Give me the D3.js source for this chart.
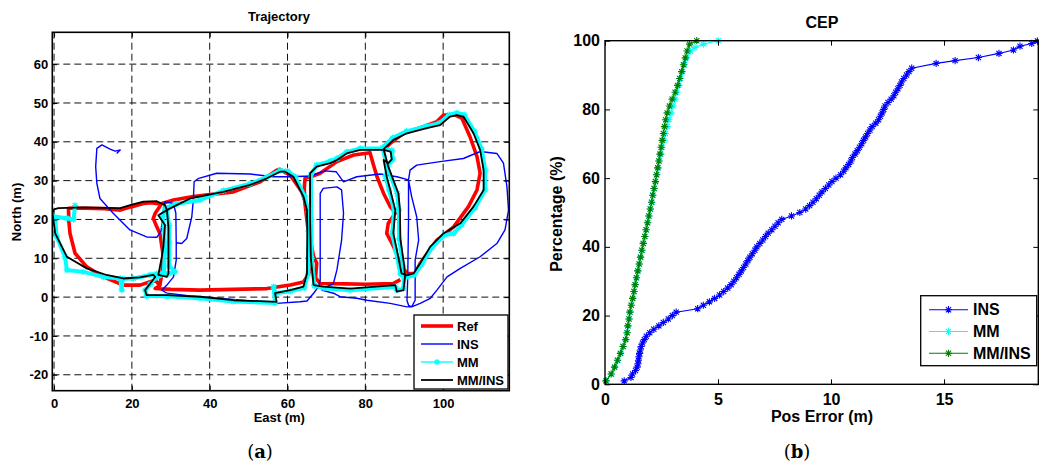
<!DOCTYPE html>
<html>
<head>
<meta charset="utf-8">
<script src="https://cdn.jsdelivr.net/npm/d3@7"></script>
<style>
  body { margin: 0; background: #fff; }
  text { font-family: "Liberation Sans", Arial, sans-serif; font-weight: bold; fill: #000; }
</style>
</head>
<body>
<svg id="chart" width="1039" height="466"></svg>
<script>
// ---------- (a) Trajectory : [east, north] in metres ----------
var xTicksA = [0, 20, 40, 60, 80, 100],
  yTicksA = [-20, -10, 0, 10, 20, 30, 40, 50, 60];

var refA = [[27.2,24.0],[25,24.3],[23,24.1],[20,23.3],[17,22.4],[13,22.8],[8,22.9],[3.7,22.9],[3.8,19.5],[4.1,16.4],[5.4,11.3],[8.4,7.8],[12.7,5.2],[17.8,3.1],[22.1,3.1],[26,4.4],[27.2,3.0],[26,2.2],[30,2.0],[37.5,1.8],[46,2.0],[54.7,2.2],[60.7,3.1],[64.1,3.9],[65.8,6.5],[66.2,11.3],[65.8,18],[64.9,23.3],[63.7,27.1],[60.7,31.4],[58.0,32.9],[57.2,32.7],[53,29.7],[46.1,27.1],[40,26.4],[35.8,25.9],[30.7,25.0],[27.7,24.1],[26.0,21.6],[25.5,20.3],[26.4,18.1],[27.2,16.4],[28.1,10.4],[27.7,6.0],[27.2,3.0]];

var refB = [[89.0,4.5],[87.2,3.5],[80,3.3],[75,3.4],[68.4,3.5],[67.2,5.0],[67.5,8.7],[66.7,10.5],[65.2,18],[64.5,24],[64.3,28],[64.5,30.6],[66.5,31.2],[68.4,31.9],[72.7,34.9],[77,36.6],[81.2,37.2],[82.1,34.0],[83,31],[84.7,26.7],[86.4,23.3],[87.7,21.6],[85.9,19],[85.5,16.4],[86.4,14.7],[87.7,12.1],[88.9,8.7],[90.7,6.1],[92.8,6.1],[94.1,8.7],[98.4,14.7],[102.7,18.1],[106.5,23.3],[108.7,27.6],[109.5,31.9],[108.7,36.2],[106.9,41.3],[104.8,46.1],[103.1,46.9],[100.1,46.9],[98.4,45.2],[94.9,43.9],[89.8,42.2],[86.4,39.6],[84.7,37.9]];

var insPath = [[16.1,37.0],[17.0,37.9],[15.7,37.6],[14.4,38.1],[12.3,39.2],[11.0,38.3],[10.7,33.6],[11.0,29.3],[11.8,25.4],[15.2,21.6],[19.5,17.3],[23.8,15.5],[26.4,15.4],[27.5,17.0],[28.0,22.0],[28.5,24.6],[30.7,24.1],[31.3,21.6],[31.4,14.0],[31.4,9.5],[30.7,5.2],[29.0,3.1],[27.7,1.8],[29.0,1.0],[35.0,0.3],[46.0,-0.6],[57.2,-1.6],[63.2,-1.2],[65.0,-1.0],[66.7,1.0],[68.0,2.7],[68.4,4.4],[68.4,15.0],[68.4,26.7],[69.2,28.0],[72.7,28.4],[73.9,27.6],[74.4,21.6],[73.9,14.7],[72.7,7.0],[71.8,3.5],[70.1,2.7],[68.8,1.8],[71.8,1.0],[73.5,0.1],[77.8,-0.3],[80.4,-0.8],[86.4,-1.6],[90.7,-2.5],[91.9,-2.5],[94.1,-1.6],[96.7,-0.3],[98.4,1.8],[101.0,5.2],[104.4,7.4],[109.5,10.4],[113.8,13.8],[115.9,17.3],[116.8,22.4],[116.4,28.4],[115.5,34.5],[113.8,37.0],[109.5,37.5],[105.2,35.7],[99.2,34.9],[93.2,34.0],[91.5,32.7],[91.1,30.2],[91.1,20.0],[90.9,5.0],[90.7,-0.8],[91.1,-2.1],[91.9,-2.5],[92.8,-0.8],[92.8,9.5],[93.7,14.7],[93.2,20.7],[91.9,25.9],[91.1,30.2],[88.1,31.0],[83.8,31.7],[77.8,31.0],[74.4,29.7],[72.5,32.3],[69.5,32.5],[66.0,31.2],[60.7,31.0],[56.4,31.0],[50.4,31.7],[41.8,31.9],[37.0,30.5],[36.0,29.7],[35.8,25.0],[35.4,20.7],[34.1,15.1],[32.8,13.8],[31.5,14.0]];

var mmA = [[5.4,23.6],[5.0,20.0],[3.3,20.3],[-0.4,20.8],[0.3,19.8],[0.7,15.5],[2.8,10.4],[3.3,7.0],[7.5,6.5],[12.7,5.2],[17.0,4.8],[17.4,1.8],[17.6,4.7],[20.4,4.8],[24.7,5.7],[26.4,6.0],[28.2,6.2],[28.5,12.0],[28.3,18.0],[27.8,20.8],[28.6,23.0],[31.5,24.0],[37.5,25.0],[43.5,27.4],[50.4,29.2],[54.7,30.9],[58.1,32.6],[60.0,32.5],[62.0,31.0],[64.4,26.0],[65.4,22.0],[65.4,17.0],[65.3,6.0],[64.3,2.4],[60.7,1.5],[57.0,1.0],[56.4,2.7],[56.8,-1.5],[46.1,-1.1],[37.5,-0.3],[29.0,0.2],[23.8,0.3],[23.4,1.8],[24.7,3.3],[26.2,5.0],[29.4,6.1],[31.1,6.5],[29.6,8.0],[29.6,14.0],[29.6,18.5],[29.0,22.2]];

var mmB = [[66.9,3.0],[66.2,10.0],[66.1,20.0],[66.0,31.5],[67.5,34.0],[71.0,35.0],[72.7,35.7],[75.2,37.4],[78.7,38.3],[84.7,38.3],[86.8,37.8],[87.1,35.5],[85.9,34.2],[85.2,31.0],[86.1,27.6],[87.4,22.4],[86.9,16.4],[87.8,12.1],[89.0,6.0],[90.7,5.2],[92.6,5.6],[94.4,8.3],[97.0,12.6],[100.3,16.0],[102.7,16.4],[104.7,18.6],[108.2,23.0],[110.8,27.6],[110.8,32.7],[109.9,38.1],[108.1,42.6],[105.4,47.0],[103.5,47.4],[101.6,47.0],[99.0,44.8],[95.7,44.0],[90.6,42.7],[87.0,41.0],[84.4,38.5],[85.6,33.6],[88.2,26.7],[88.6,22.4],[88.7,15.0],[89.7,8.0],[89.9,5.2],[89.8,2.2],[88.1,1.8],[87.7,2.7],[76.1,1.8],[69.2,2.3],[66.9,3.0]];

var mmInsA = [[0.0,22.6],[1.1,22.9],[7.6,23.1],[13,23.0],[17,22.9],[20,23.8],[23,24.6],[26.4,24.7],[28.5,23.7],[29.0,22.4],[26.8,21.1],[28.5,18.6],[28.1,13],[27.7,10.4],[26.8,5.7],[29.0,5.2],[29.4,6.1],[29.4,12],[29.4,18.1],[29.0,22.4],[31.5,23.7],[35,25.4],[43.5,27.1],[50.4,28.9],[54.7,30.6],[58.1,32.3],[59.4,32.3],[61.5,31.0],[64.1,25.9],[65.0,22.4],[65.1,17.3],[65.0,6.1],[64.1,2.7],[60.7,1.8],[56.8,1.0],[57.2,-1.2],[46.1,-0.8],[37.5,0.1],[29,0.5],[23.8,0.5],[23.4,1.8],[24.7,3.5],[26.0,5.2],[25.5,5.7],[22.1,5.1],[17.8,4.8],[13.5,5.7],[8.4,7.4],[3.3,10.4],[0.3,16.4],[-0.4,21.6],[0.0,22.6]];

var mmInsB = [[66.7,3.1],[66.0,10],[65.8,20],[65.8,31.9],[67.5,33.6],[71,34.5],[72.7,35.3],[75.2,37.0],[78.7,37.9],[84.7,37.9],[86.5,37.5],[86.8,35.5],[85.9,34.5],[84.7,35.3],[85.5,31.0],[86.4,27.6],[87.7,22.4],[87.2,16.4],[88.1,12.1],[89.3,6.1],[90.7,5.6],[92.4,6.1],[94.1,8.7],[96.7,13],[100.1,16.4],[104.4,19],[107.8,23.3],[110.4,27.6],[110.4,32.7],[109.5,37.9],[107.8,42.2],[105.2,46.5],[103.5,46.9],[101.8,46.5],[99.2,44.3],[95.8,43.5],[90.7,42.2],[87.2,40.5],[84.7,38.1],[85.9,33.6],[88.5,26.7],[88.9,22.4],[89.0,15],[90.0,8],[90.2,5.2],[89.8,1.8],[88.1,1.4],[87.7,3.1],[76.1,2.2],[69.2,2.7],[66.7,3.1]];

// ---------- (b) CEP : [position error m, percentage] ----------
var xTicksB = [0, 5, 10, 15],
  yTicksB = [0, 20, 40, 60, 80, 100];

var insCep = [[0.85,1],[1.15,2],[1.22,3],[1.35,4],[1.42,5],[1.46,6],[1.48,7],[1.50,8],[1.53,9],[1.56,10],[1.60,11],[1.66,12],[1.74,13],[1.83,14],[1.98,15],[2.16,16],[2.38,17],[2.58,18],[2.80,19],[2.98,20],[3.15,21],[4.10,22],[4.35,23],[4.62,24],[4.85,25],[5.07,26],[5.25,27],[5.43,28],[5.58,29],[5.70,30],[5.82,31],[5.93,32],[6.03,33],[6.13,34],[6.23,35],[6.32,36],[6.41,37],[6.52,38],[6.63,39],[6.72,40],[6.85,41],[6.98,42],[7.10,43],[7.22,44],[7.38,45],[7.52,46],[7.66,47],[7.82,48],[8.25,49],[8.62,50],[8.88,51],[9.05,52],[9.20,53],[9.35,54],[9.48,55],[9.60,56],[9.75,57],[9.90,58],[10.04,59],[10.22,60],[10.42,61],[10.56,62],[10.66,63],[10.78,64],[10.88,65],[10.95,66],[11.06,67],[11.16,68],[11.26,69],[11.36,70],[11.44,71],[11.53,72],[11.62,73],[11.72,74],[11.82,75],[11.98,76],[12.10,77],[12.18,78],[12.26,79],[12.33,80],[12.39,81],[12.52,82],[12.66,83],[12.78,84],[12.86,85],[12.96,86],[13.05,87],[13.12,88],[13.22,89],[13.34,90],[13.45,91],[13.57,92],[14.65,93.4],[15.49,94.2],[16.52,95.1],[17.43,96.3],[18.07,97.3],[18.36,98.4],[18.88,99.2],[19.13,99.9]];

var mmCep = [[0.06,1],[0.29,3],[0.44,5],[0.57,7],[0.70,9],[0.80,11],[0.90,13],[0.97,15],[1.02,17],[1.07,19],[1.11,21],[1.17,23],[1.23,25],[1.29,27],[1.34,29],[1.40,31],[1.46,33],[1.52,35],[1.58,37],[1.63,39],[1.70,41],[1.76,43],[1.82,45],[1.89,47],[1.95,49],[2.01,51],[2.07,53],[2.12,55],[2.18,57],[2.24,59],[2.29,61],[2.35,63],[2.41,65],[2.47,67],[2.53,69],[2.60,71],[2.67,73],[2.75,75],[2.83,77],[2.92,79],[3.01,81],[3.10,83],[3.18,85],[3.27,87],[3.35,89],[3.43,91],[3.52,93],[3.62,95],[3.78,97],[3.98,98],[4.35,99],[5.01,100]];

var mmInsCep = [[0.04,1],[0.27,3],[0.42,5],[0.55,7],[0.68,9],[0.80,11],[0.92,13],[0.98,15],[1.01,17],[1.06,19],[1.10,21],[1.16,23],[1.22,25],[1.28,27],[1.33,29],[1.39,31],[1.45,33],[1.51,35],[1.57,37],[1.63,39],[1.69,41],[1.76,43],[1.82,45],[1.88,47],[1.94,49],[2.00,51],[2.06,53],[2.11,55],[2.17,57],[2.23,59],[2.28,61],[2.33,63],[2.38,65],[2.43,67],[2.48,69],[2.53,71],[2.58,73],[2.63,75],[2.68,77],[2.75,79],[2.85,81],[2.97,83],[3.10,85],[3.21,87],[3.30,89],[3.39,91],[3.47,93],[3.55,95],[3.63,97],[3.74,99],[4.06,100]];

var svg = d3.select("#chart");
svg.append("rect").attr("width", 1039).attr("height", 466).attr("fill", "#fff");

// MATLAB style '*' marker
function star(r) {
  var k = r * 0.72;
  return "M" + (-r) + ",0L" + r + ",0M0," + (-r) + "L0," + r +
    "M" + (-k) + "," + (-k) + "L" + k + "," + k + "M" + (-k) + "," + k + "L" + k + "," + (-k);
}

function frameAxes(g, x, y, xt, yt, fs, padX, padY, tick) {
  var x0 = x.range()[0], x1 = x.range()[1], y0 = y.range()[1], y1 = y.range()[0];
  var fmt = function(d) { return String(d); };
  function style(sel) {
    sel.select(".domain").remove();
    sel.attr("font-family", null).attr("font-size", fs);
    sel.selectAll("line").attr("stroke", "#000");
  }
  g.append("g").attr("transform", "translate(0," + y1 + ")")
    .call(d3.axisBottom(x).tickValues(xt).tickFormat(fmt).tickSizeInner(-tick).tickSizeOuter(0).tickPadding(padX)).call(style);
  g.append("g").attr("transform", "translate(0," + y0 + ")")
    .call(d3.axisTop(x).tickValues(xt).tickFormat("").tickSizeInner(-tick).tickSizeOuter(0)).call(style);
  g.append("g").attr("transform", "translate(" + x0 + ",0)")
    .call(d3.axisLeft(y).tickValues(yt).tickFormat(fmt).tickSizeInner(-tick).tickSizeOuter(0).tickPadding(padY)).call(style);
  g.append("g").attr("transform", "translate(" + x1 + ",0)")
    .call(d3.axisRight(y).tickValues(yt).tickFormat("").tickSizeInner(-tick).tickSizeOuter(0)).call(style);
}

// =================== panel (a) ===================
var xa = d3.scaleLinear().domain([-0.45, 117]).range([52.3, 509.3]),
  ya = d3.scaleLinear().domain([-24.1, 68.2]).range([390.7, 32.3]);

var ga = svg.append("g");

ga.append("clipPath").attr("id", "clipA").append("rect")
  .attr("x", 52.3).attr("y", 32.3).attr("width", 457).attr("height", 358.4);

// dashed grid
ga.append("g").selectAll("line").data(xTicksA).enter().append("line")
  .attr("x1", function(d) { return xa(d); }).attr("x2", function(d) { return xa(d); })
  .attr("y1", 390.7).attr("y2", 32.3)
  .attr("stroke", "#111").attr("stroke-width", 1).attr("stroke-dasharray", "7,4");
ga.append("g").selectAll("line").data(yTicksA).enter().append("line")
  .attr("y1", function(d) { return ya(d); }).attr("y2", function(d) { return ya(d); })
  .attr("x1", 52.3).attr("x2", 509.3)
  .attr("stroke", "#111").attr("stroke-width", 1).attr("stroke-dasharray", "7,4");

var lineA = d3.line().x(function(d) { return xa(d[0]); }).y(function(d) { return ya(d[1]); });
var plotA = ga.append("g").attr("clip-path", "url(#clipA)");

[refA, refB].forEach(function(p) {
  plotA.append("path").attr("d", lineA(p)).attr("fill", "none")
    .attr("stroke", "#ff0000").attr("stroke-width", 3.6).attr("stroke-linejoin", "round");
});
plotA.append("path").attr("d", lineA(insPath)).attr("fill", "none")
  .attr("stroke", "#0000ff").attr("stroke-width", 1.4).attr("stroke-linejoin", "round");
[mmA, mmB].forEach(function(p) {
  plotA.append("path").attr("d", lineA(p)).attr("fill", "none")
    .attr("stroke", "#00ffff").attr("stroke-width", 4).attr("stroke-linejoin", "round");
  plotA.append("g").selectAll("path").data(p).enter().append("path")
    .attr("transform", function(d) { return "translate(" + xa(d[0]) + "," + ya(d[1]) + ")"; })
    .attr("d", star(3.2)).attr("fill", "none").attr("stroke", "#00ffff").attr("stroke-width", 1.2);
});
[mmInsA, mmInsB].forEach(function(p) {
  plotA.append("path").attr("d", lineA(p)).attr("fill", "none")
    .attr("stroke", "#000").attr("stroke-width", 1.8).attr("stroke-linejoin", "round");
});

frameAxes(ga, xa, ya, xTicksA, yTicksA, 13, 8, 4, 5);
ga.append("rect").attr("x", 52.3).attr("y", 32.3).attr("width", 457).attr("height", 358.4)
  .attr("fill", "none").attr("stroke", "#000").attr("stroke-width", 1.6);

ga.append("text").attr("x", 279).attr("y", 21).attr("text-anchor", "middle").attr("font-size", 13).text("Trajectory");
ga.append("text").attr("x", 279.3).attr("y", 422).attr("text-anchor", "middle").attr("font-size", 13).text("East (m)");
ga.append("text").attr("transform", "translate(21,212) rotate(-90)").attr("text-anchor", "middle").attr("font-size", 13).text("North (m)");

// legend (a)
var legA = [
  {name: "Ref", color: "#ff0000", w: 3.6, mark: false},
  {name: "INS", color: "#0000ff", w: 1.4, mark: false},
  {name: "MM", color: "#00ffff", w: 1.4, mark: true},
  {name: "MM/INS", color: "#000", w: 1.8, mark: false}
];
var la = ga.append("g");
la.append("rect").attr("x", 414).attr("y", 315).attr("width", 94).attr("height", 74)
  .attr("fill", "#fff").attr("stroke", "#000").attr("stroke-width", 1.3);
legA.forEach(function(d, i) {
  var cy = 326 + i * 18;
  la.append("line").attr("x1", 421).attr("x2", 453).attr("y1", cy).attr("y2", cy)
    .attr("stroke", d.color).attr("stroke-width", d.w);
  if (d.mark) la.append("path").attr("transform", "translate(437," + cy + ")").attr("d", star(3))
    .attr("fill", "none").attr("stroke", d.color).attr("stroke-width", 1.2);
  la.append("text").attr("x", 457).attr("y", cy + 4.6).attr("font-size", 13).text(d.name);
});

ga.append("text").attr("x", 260).attr("y", 458).attr("text-anchor", "middle")
  .style("font-family", "'DejaVu Serif', serif").style("font-weight", "normal").attr("font-size", 18)
  .html('(<tspan font-weight="bold">a</tspan>)');

// =================== panel (b) ===================
var xb = d3.scaleLinear().domain([0, 19.17]).range([605, 1038.3]),
  yb = d3.scaleLinear().domain([0, 100]).range([384.3, 40.7]);

var gb = svg.append("g");
gb.append("clipPath").attr("id", "clipB").append("rect")
  .attr("x", 600).attr("y", 34).attr("width", 439).attr("height", 356);

var lineB = d3.line().x(function(d) { return xb(d[0]); }).y(function(d) { return yb(d[1]); });
var plotB = gb.append("g").attr("clip-path", "url(#clipB)");

var seriesB = [
  {name: "INS", data: insCep, color: "#0000ff"},
  {name: "MM", data: mmCep, color: "#00ffff"},
  {name: "MM/INS", data: mmInsCep, color: "#008000"}
];
seriesB.forEach(function(s) {
  plotB.append("path").attr("d", lineB(s.data)).attr("fill", "none")
    .attr("stroke", s.color).attr("stroke-width", 1.1);
  plotB.append("g").selectAll("path").data(s.data).enter().append("path")
    .attr("transform", function(d) { return "translate(" + xb(d[0]) + "," + yb(d[1]) + ")"; })
    .attr("d", star(3.6)).attr("fill", "none").attr("stroke", s.color).attr("stroke-width", 1.1);
});

frameAxes(gb, xb, yb, xTicksB, yTicksB, 16, 9, 5, 5);
gb.append("rect").attr("x", 605).attr("y", 40.7).attr("width", 433.3).attr("height", 343.6)
  .attr("fill", "none").attr("stroke", "#000").attr("stroke-width", 1.4);

gb.append("text").attr("x", 822).attr("y", 28).attr("text-anchor", "middle").attr("font-size", 16).text("CEP");
gb.append("text").attr("x", 822).attr("y", 422).attr("text-anchor", "middle").attr("font-size", 16).text("Pos Error (m)");
gb.append("text").attr("transform", "translate(561.5,214) rotate(-90)").attr("text-anchor", "middle").attr("font-size", 16).text("Percentage (%)");

// legend (b)
var lb = gb.append("g");
lb.append("rect").attr("x", 920.7).attr("y", 295.7).attr("width", 116).attr("height", 70)
  .attr("fill", "#fff").attr("stroke", "#000").attr("stroke-width", 1.3);
seriesB.forEach(function(s, i) {
  var cy = 309.7 + i * 21.8;
  lb.append("line").attr("x1", 929).attr("x2", 968).attr("y1", cy).attr("y2", cy)
    .attr("stroke", s.color).attr("stroke-width", 1.1);
  lb.append("path").attr("transform", "translate(948.5," + cy + ")").attr("d", star(3.6))
    .attr("fill", "none").attr("stroke", s.color).attr("stroke-width", 1.1);
  lb.append("text").attr("x", 973).attr("y", cy + 5.7).attr("font-size", 16).text(s.name);
});

gb.append("text").attr("x", 797).attr("y", 458).attr("text-anchor", "middle")
  .style("font-family", "'DejaVu Serif', serif").style("font-weight", "normal").attr("font-size", 18)
  .html('(<tspan font-weight="bold">b</tspan>)');
</script>
</body>
</html>
